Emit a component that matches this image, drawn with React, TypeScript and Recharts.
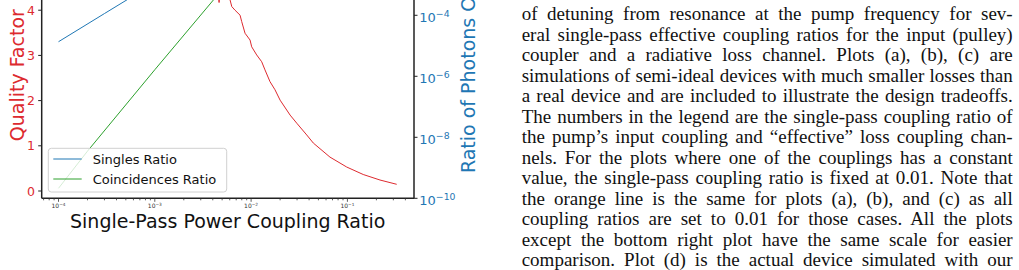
import React from 'react'
import { ComposedChart, Line, XAxis, YAxis } from 'recharts'

// values (x = single-pass power coupling ratio)
const couplingQ = [
  1e-4, 3e-4, 1e-3, 3e-3, 4.51e-3, 4.65e-3, 4.78e-3, 5.4e-3, 6.04e-3, 6.3e-3,
  6.81e-3, 7.68e-3, 7.98e-3, 8.65e-3, 9.75e-3, 1.014e-2, 1.143e-2, 1.288e-2,
  1.393e-2, 1.57e-2, 1.77e-2, 2.0e-2, 2.54e-2, 2.98e-2, 3.78e-2, 4.43e-2,
  6.59e-2, 9.84e-2, 0.146, 0.218, 0.325,
]
const qualityFactor = [
  4.95, 4.9, 4.8, 4.6, 4.5, 4.17, 4.55, 4.45, 4.23, 4.08,
  4.0, 3.89, 3.75, 3.49, 3.34, 3.19, 3.01, 2.86,
  2.68, 2.42, 2.24, 2.01, 1.68, 1.5, 1.24, 1.06,
  0.75, 0.53, 0.365, 0.243, 0.148,
]

const couplingSingles = [1e-4, 3e-4, 1e-3, 3e-3]
const singlesRatio = [1.36e-5, 1.14e-4, 1.16e-3, 9.7e-3]

const couplingCoinc = [1e-4, 2e-4, 1e-3, 3e-3, 1e-2]
const coincidencesRatio = [2.13e-10, 3.52e-9, 1.64e-6, 1.02e-4, 9.4e-3]

const xMajorTicks = [1e-4, 1e-3, 1e-2, 1e-1]
const xMinorTicks = [
  7e-5, 8e-5, 9e-5,
  2e-4, 3e-4, 4e-4, 5e-4, 6e-4, 7e-4, 8e-4, 9e-4,
  2e-3, 3e-3, 4e-3, 5e-3, 6e-3, 7e-3, 8e-3, 9e-3,
  2e-2, 3e-2, 4e-2, 5e-2, 6e-2, 7e-2, 8e-2, 9e-2,
  0.2, 0.3, 0.4,
]
const qTicks = [0, 1, 2, 3, 4]
const ratioTicks = [1e-10, 1e-8, 1e-6, 1e-4]

const captionLines = [
  'of detuning from resonance at the pump frequency for sev-',
  'eral single-pass effective coupling ratios for the input (pulley)',
  'coupler and a radiative loss channel. Plots (a), (b), (c) are',
  'simulations of semi-ideal devices with much smaller losses than',
  'a real device and are included to illustrate the design tradeoffs.',
  'The numbers in the legend are the single-pass coupling ratio of',
  'the pump\u2019s input coupling and \u201ceffective\u201d loss coupling chan-',
  'nels. For the plots where one of the couplings has a constant',
  'value, the single-pass coupling ratio is fixed at 0.01. Note that',
  'the orange line is the same for plots (a), (b), and (c) as all',
  'coupling ratios are set to 0.01 for those cases. All the plots',
  'except the bottom right plot have the same scale for easier',
  'comparison. Plot (d) is the actual device simulated with our',
]

const RED = '#dd2a2f'
const BLUE = '#1f77b4'
const GREEN = '#2ca02c'
const FONT = 'DejaVu Sans, sans-serif'

const toPoints = (xs: number[], ys: number[]) => xs.map((x, i) => ({ x, y: ys[i] }))

const qData = toPoints(couplingQ, qualityFactor)
const singlesData = toPoints(couplingSingles, singlesRatio)
const coincData = toPoints(couplingCoinc, coincidencesRatio)

const legendItems = [
  { name: 'Singles Ratio', color: BLUE },
  { name: 'Coincidences Ratio', color: GREEN },
]

const exponent = (v: number) => Math.round(Math.log10(v))

function XTick(props: any) {
  const { x, y, payload } = props
  const major = xMajorTicks.includes(payload.value)
  const e = exponent(payload.value)
  return (
    <g>
      <line x1={x} x2={x} y1={y} y2={y + (major ? 3.5 : 2)} stroke="#333" strokeWidth={0.8} />
      {major && (
        <text x={x} y={y + 10} textAnchor="middle" fontFamily={FONT} fontSize={6} fill="#333">
          10
          <tspan fontSize={4.3} dy={-2.8}>{'\u2212' + -e}</tspan>
        </text>
      )}
    </g>
  )
}

function QTick(props: any) {
  const { x, y, payload } = props
  return (
    <g>
      <line x1={x - 3.5} x2={x} y1={y} y2={y} stroke="#222" strokeWidth={1} />
      <text x={x - 6.7} y={y + 4.5} textAnchor="end" fontFamily={FONT} fontSize={12.5} fill={RED}>
        {payload.value}
      </text>
    </g>
  )
}

function RatioTick(props: any) {
  const { x, y, payload } = props
  const e = exponent(payload.value)
  return (
    <g>
      <line x1={x} x2={x + 3.5} y1={y} y2={y} stroke="#222" strokeWidth={1} />
      <text x={x + 5.3} y={y + 6.5} fontFamily={FONT} fontSize={13} fill={BLUE}>
        10
        <tspan fontSize={9.3} dy={-5}>{'\u2212' + -e}</tspan>
      </text>
    </g>
  )
}

export default function App() {
  return (
    <div
      style={{
        position: 'absolute',
        left: 0,
        top: 0,
        width: 1019,
        height: 270,
        overflow: 'hidden',
        background: '#fff',
      }}
    >
      <div style={{ position: 'absolute', left: 0, top: -60 }}>
        <ComposedChart width={470} height={300} margin={{ top: 12, right: 0, bottom: 0, left: 0 }}>
          <XAxis
            dataKey="x"
            type="number"
            scale="log"
            domain={[6.69e-5, 0.4915]}
            allowDataOverflow
            ticks={[...xMinorTicks, ...xMajorTicks].sort((a, b) => a - b)}
            interval={0}
            height={41.7}
            tickSize={0}
            tickMargin={0}
            tickLine={false}
            tick={XTick}
            axisLine={{ stroke: '#222', strokeWidth: 1.5 }}
          />
          <YAxis
            yAxisId="q"
            orientation="left"
            type="number"
            domain={[-0.1615, 5.288]}
            allowDataOverflow
            ticks={qTicks}
            interval={0}
            width={41.7}
            tickSize={0}
            tickMargin={0}
            tickLine={false}
            tick={QTick}
            axisLine={{ stroke: '#222', strokeWidth: 1.5 }}
          />
          <YAxis
            yAxisId="ratio"
            orientation="right"
            type="number"
            scale="log"
            domain={[1e-10, 0.01189]}
            allowDataOverflow
            ticks={ratioTicks}
            interval={0}
            width={56}
            tickSize={0}
            tickMargin={0}
            tickLine={false}
            tick={RatioTick}
            axisLine={{ stroke: '#222', strokeWidth: 1.5 }}
          />
          <Line
            yAxisId="q"
            data={qData}
            dataKey="y"
            stroke={RED}
            strokeWidth={1}
            dot={false}
            isAnimationActive={false}
          />
          <Line
            yAxisId="ratio"
            data={singlesData}
            dataKey="y"
            stroke={BLUE}
            strokeWidth={1}
            dot={false}
            isAnimationActive={false}
          />
          <Line
            yAxisId="ratio"
            data={coincData}
            dataKey="y"
            stroke={GREEN}
            strokeWidth={1}
            dot={false}
            isAnimationActive={false}
          />
        </ComposedChart>
      </div>

      {/* axis titles and legend on top of the chart */}
      <svg
        width={520}
        height={270}
        style={{ position: 'absolute', left: 0, top: 0, pointerEvents: 'none' }}
      >
        <text x={227.7} y={227.7} textAnchor="middle" fontFamily={FONT} fontSize={19} fill="#111">
          Single-Pass Power Coupling Ratio
        </text>
        <text
          transform="translate(24,75.2) rotate(-90)"
          textAnchor="middle"
          fontFamily={FONT}
          fontSize={19}
          fill={RED}
        >
          Quality Factor
        </text>
        <text
          transform="translate(475,75.2) rotate(-90)"
          textAnchor="middle"
          fontFamily={FONT}
          fontSize={19}
          fill={BLUE}
        >
          Ratio of Photons Out
        </text>

        <rect
          x={48.3}
          y={148.3}
          width={178.4}
          height={43.7}
          rx={3}
          fill="#fff"
          fillOpacity={0.8}
          stroke="#d0d0d0"
          strokeWidth={1}
        />
        {legendItems.map((item, i) => {
          const ly = 159 + i * 20
          return (
            <g key={item.name}>
              <line x1={53.3} x2={81.7} y1={ly} y2={ly} stroke={item.color} strokeWidth={1} />
              <text x={92.7} y={ly + 5} fontFamily={FONT} fontSize={13} fill="#111">
                {item.name}
              </text>
            </g>
          )
        })}
      </svg>

      <div
        style={{
          position: 'absolute',
          left: 521.7,
          top: 4,
          width: 491,
          fontFamily: '"Liberation Serif", serif',
          fontSize: 19,
          lineHeight: '20.5px',
          color: '#111',
        }}
      >
        {captionLines.map((line) => (
          <div key={line} style={{ textAlign: 'justify', textAlignLast: 'justify', height: 20.5 }}>
            {line}
          </div>
        ))}
      </div>
    </div>
  )
}
